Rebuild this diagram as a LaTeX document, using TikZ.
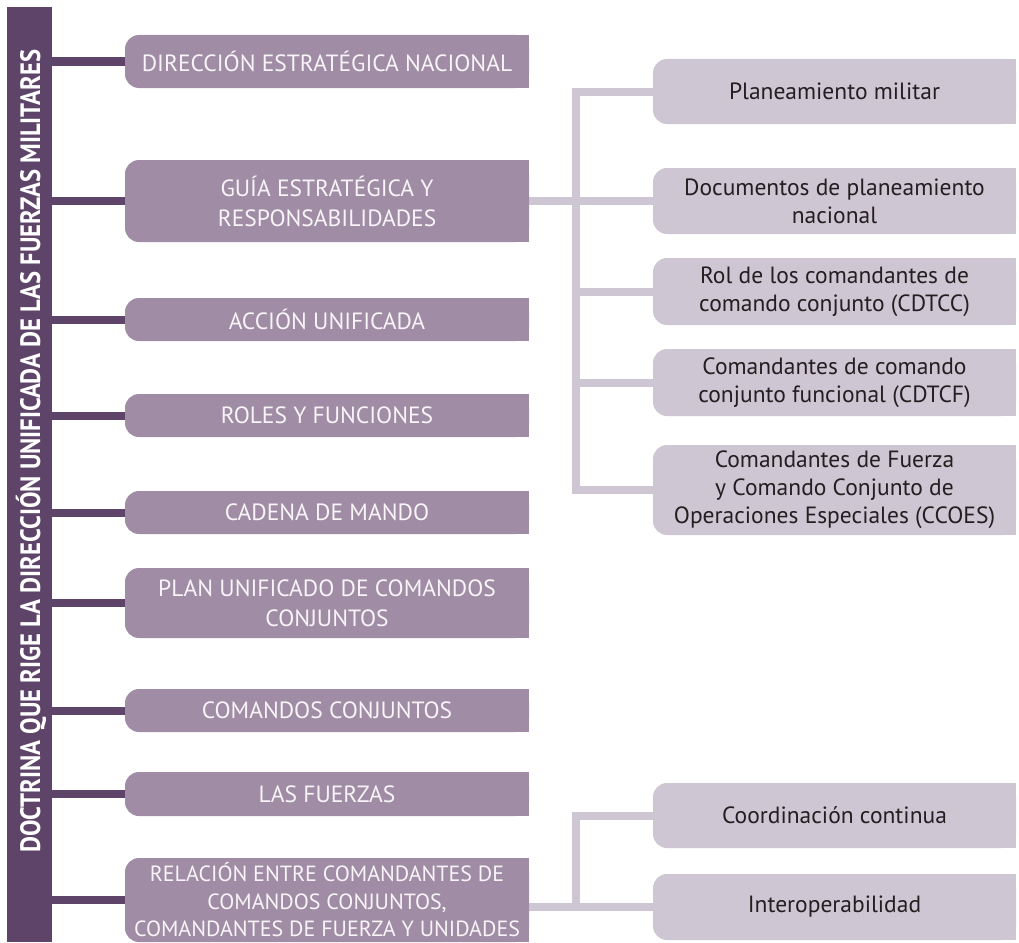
\documentclass[tikz,border=0pt]{standalone}
\usepackage{fontspec}
\setmainfont{PT Sans}
\usetikzlibrary{backgrounds}
\definecolor{barc}{HTML}{5E4468}
\definecolor{mainc}{HTML}{A08DA5}
\definecolor{lightc}{HTML}{CFC6D3}
\definecolor{txtc}{HTML}{231F20}
\definecolor{mtxt}{HTML}{F8F4F8}
\begin{document}
\begin{tikzpicture}[x=1pt,y=-1pt,
  mainbox/.style={fill=mainc, rounded corners=14pt, inner sep=0pt, minimum width=404pt, text=mtxt, align=center, font=\fontsize{23.5}{30}\selectfont},
  subbox/.style={fill=lightc, rounded corners=14pt, inner sep=0pt, minimum width=363pt, text=txtc, align=center, font=\fontsize{23.5}{28}\selectfont},
  darkline/.style={draw=barc, line width=8pt},
  lightline/.style={draw=lightc, line width=8pt},
  bartext/.style={rotate=90, text=white, inner sep=0pt, font=\bfseries\fontsize{28}{28}\selectfont}]
\useasboundingbox (0,0) rectangle (1019,942);
% left bar
\node[fill=barc, inner sep=0pt, minimum width=45pt, minimum height=935pt] (bar) at (29.5,474.5) {};
\node[bartext] (title) at (31,451) {\scalebox{0.88}[1]{DOCTRINA QUE RIGE LA DIRECCIÓN UNIFICADA DE LAS FUERZAS MILITARES}};
% main boxes
\node[mainbox, minimum height=53pt] (b1) at (327,61.5) {DIRECCIÓN ESTRATÉGICA NACIONAL};
\node[mainbox, minimum height=82pt] (b2) at (327,201) {GUÍA ESTRATÉGICA Y\\RESPONSABILIDADES};
\node[mainbox, minimum height=43pt] (b3) at (327,319.5) {ACCIÓN UNIFICADA};
\node[mainbox, minimum height=43pt] (b4) at (327,415.5) {ROLES Y FUNCIONES};
\node[mainbox, minimum height=43pt] (b5) at (327,512.5) {CADENA DE MANDO};
\node[mainbox, minimum height=70pt] (b6) at (327,603) {PLAN UNIFICADO DE COMANDOS\\CONJUNTOS};
\node[mainbox, minimum height=43pt] (b7) at (327,710.5) {COMANDOS CONJUNTOS};
\node[mainbox, minimum height=44pt] (b8) at (327,794) {LAS FUERZAS};
\node[mainbox, minimum height=84pt, font=\fontsize{22}{27.5}\selectfont] (b9) at (327,900) {RELACIÓN ENTRE COMANDANTES DE\\COMANDOS CONJUNTOS,\\COMANDANTES DE FUERZA Y UNIDADES};
% right boxes
\node[subbox, minimum height=65pt] (r1) at (834.5,91.5) {Planeamiento militar};
\node[subbox, minimum height=66pt] (r2) at (834.5,201) {Documentos de planeamiento\\nacional};
\node[subbox, minimum height=67pt] (r3) at (834.5,291.5) {Rol de los comandantes de\\comando conjunto (CDTCC)};
\node[subbox, minimum height=67pt] (r4) at (834.5,382.5) {Comandantes de comando\\conjunto funcional (CDTCF)};
\node[subbox, minimum height=90pt] (r5) at (834.5,490) {Comandantes de Fuerza\\y Comando Conjunto de\\Operaciones Especiales (CCOES)};
\node[subbox, minimum height=65pt] (r6) at (834.5,815.5) {Coordinación continua};
\node[subbox, minimum height=66pt] (r7) at (834.5,907) {Interoperabilidad};
\coordinate (t1) at (576,91.5);
\coordinate (t2) at (576,815.5);
\begin{pgfonlayer}{background}
\foreach \n in {b1,b2,b3,b4,b5,b6,b7,b8,b9}
  \fill[mainc] (\n.north) rectangle (\n.south east);
\foreach \n in {r1,r2,r3,r4,r5,r6,r7}
  \fill[lightc] (\n.north) rectangle (\n.south east);
% dark connectors
\foreach \n in {b1,b2,b3,b4,b5,b6,b7,b8,b9}
  \draw[darkline] (\n.west -| bar.east) -- (\n.west);
% light connectors group 1
\draw[lightline] (b2.east) -- (r2.west);
\draw[lightline] (r1.west) -- (t1) -- (t1 |- r5.west) -- (r5.west);
\draw[lightline] (r3.west -| t1) -- (r3.west);
\draw[lightline] (r4.west -| t1) -- (r4.west);
% light connectors group 2
\draw[lightline] (r7.west -| b9.east) -- (r7.west);
\draw[lightline] (r6.west) -- (t2) -- (t2 |- r7.west);
\end{pgfonlayer}
\end{tikzpicture}
\end{document}
